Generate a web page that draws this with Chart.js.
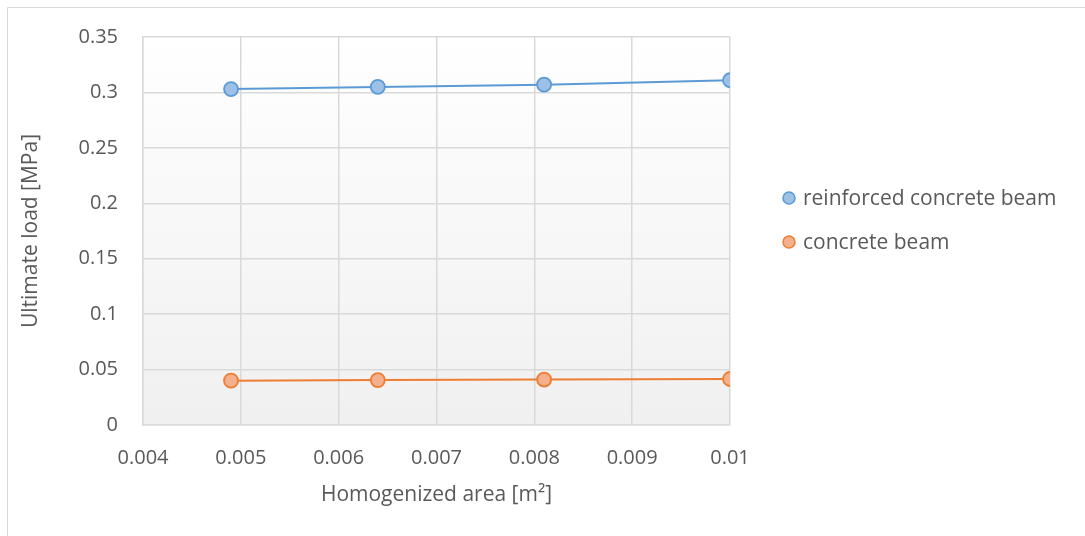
<!DOCTYPE html>
<html>
<head>
<meta charset="utf-8">
<script src="https://cdn.jsdelivr.net/npm/chart.js@4.4.1/dist/chart.umd.min.js"></script>
<style>
  html, body { margin: 0; padding: 0; background: #ffffff; }
  #wrap { width: 1085px; height: 536px; position: relative; }
  canvas { display: block; }
</style>
</head>
<body>
<div id="wrap"><canvas id="chart" width="1085" height="536"></canvas></div>
<script>
// Homogenized cross-section area [m²] of the tested beams
const areas = [0.0049, 0.0064, 0.0081, 0.01];
// Ultimate load [MPa] for each beam type
const reinforcedLoad = [0.303, 0.305, 0.307, 0.311];
const plainLoad = [0.040, 0.0405, 0.041, 0.0415];
const seriesNames = ['reinforced concrete beam', 'concrete beam'];

// Axis ticks
const xTickValues = [0.004, 0.005, 0.006, 0.007, 0.008, 0.009, 0.01];
const xTickLabels = ['0.004', '0.005', '0.006', '0.007', '0.008', '0.009', '0.01'];
const yTickValues = [0, 0.05, 0.1, 0.15, 0.2, 0.25, 0.3, 0.35];
const yTickLabels = ['0', '0.05', '0.1', '0.15', '0.2', '0.25', '0.3', '0.35'];

const xTitle = 'Homogenized area [m²]';
const yTitle = 'Ultimate load [MPa]';

const FONT = "'Open Sans', sans-serif";
const TEXT = '#595959';
const GRID = '#d9d9d9';
const TICK_SIZE = 20;
const LABEL_SIZE = 21;

Chart.defaults.font.family = FONT;
Chart.defaults.font.size = TICK_SIZE;
Chart.defaults.color = TEXT;

const toPoints = (xs, ys) => xs.map((x, i) => ({ x: x, y: ys[i] }));

const styles = [
  { line: '#5b9bd5', fill: '#9dc0e6' },
  { line: '#ed7d31', fill: '#f4b08c' }
];

// Light gradient behind the plot area plus the outer frame
const backdrop = {
  id: 'backdrop',
  beforeDraw(chart) {
    const { ctx, chartArea: a } = chart;
    ctx.save();
    ctx.fillStyle = '#ffffff';
    ctx.fillRect(0, 0, chart.width, chart.height);
    const g = ctx.createLinearGradient(0, a.top, 0, a.bottom);
    g.addColorStop(0, '#ffffff');
    g.addColorStop(1, '#f0f0f0');
    ctx.fillStyle = g;
    ctx.fillRect(a.left, a.top, a.right - a.left, a.bottom - a.top);
    ctx.strokeStyle = GRID;
    ctx.lineWidth = 1;
    ctx.beginPath();
    ctx.moveTo(7.5, chart.height);
    ctx.lineTo(7.5, 7.5);
    ctx.lineTo(chart.width, 7.5);
    ctx.stroke();
    ctx.restore();
  }
};

// Legend on the right side, built from the dataset labels and colours
const sideLegend = {
  id: 'sideLegend',
  afterDraw(chart) {
    const { ctx } = chart;
    const x0 = 789, tx = 803, y0 = 198, step = 44;
    ctx.save();
    chart.data.datasets.forEach((ds, i) => {
      const y = y0 + i * step;
      ctx.beginPath();
      ctx.arc(x0, y, 6, 0, Math.PI * 2);
      ctx.fillStyle = ds.pointBackgroundColor;
      ctx.fill();
      ctx.lineWidth = 1.5;
      ctx.strokeStyle = ds.pointBorderColor;
      ctx.stroke();
      ctx.fillStyle = TEXT;
      ctx.font = LABEL_SIZE + 'px ' + FONT;
      ctx.textBaseline = 'middle';
      ctx.textAlign = 'left';
      ctx.fillText(ds.label, tx, y + 1);
    });
    ctx.restore();
  }
};

const datasets = [reinforcedLoad, plainLoad].map((vals, i) => ({
  label: seriesNames[i],
  data: toPoints(areas, vals),
  showLine: true,
  borderColor: styles[i].line,
  borderWidth: 2,
  backgroundColor: styles[i].fill,
  pointBackgroundColor: styles[i].fill,
  pointBorderColor: styles[i].line,
  pointBorderWidth: 1.8,
  pointRadius: 7,
  pointHoverRadius: 7,
  tension: 0
}));

new Chart(document.getElementById('chart'), {
  type: 'scatter',
  data: { datasets: datasets },
  options: {
    responsive: false,
    animation: false,
    devicePixelRatio: 1,
    layout: { padding: { top: 36, right: 355, left: 0, bottom: 0 } },
    plugins: {
      legend: { display: false },
      tooltip: { enabled: false }
    },
    scales: {
      x: {
        type: 'linear',
        min: xTickValues[0],
        max: xTickValues[xTickValues.length - 1],
        afterBuildTicks: s => { s.ticks = xTickValues.map(v => ({ value: v })); },
        afterFit: s => { s.height = 111; },
        border: { color: GRID, width: 1.5 },
        grid: { color: GRID, lineWidth: 1.5, drawTicks: false },
        ticks: {
          padding: 21,
          maxRotation: 0,
          autoSkip: false,
          callback: (v, i) => xTickLabels[i]
        },
        title: {
          display: true,
          text: xTitle,
          color: TEXT,
          font: { size: LABEL_SIZE },
          padding: { top: 0, bottom: 28 }
        }
      },
      y: {
        type: 'linear',
        min: yTickValues[0],
        max: yTickValues[yTickValues.length - 1],
        afterBuildTicks: s => { s.ticks = yTickValues.map(v => ({ value: v })); },
        afterFit: s => { s.width = 143; },
        border: { color: GRID, width: 1.5 },
        grid: { color: GRID, lineWidth: 1.5, drawTicks: false },
        ticks: {
          padding: 25,
          autoSkip: false,
          callback: (v, i) => yTickLabels[i]
        },
        title: {
          display: true,
          text: yTitle,
          color: TEXT,
          font: { size: LABEL_SIZE },
          padding: { top: 18, bottom: 0 }
        }
      }
    }
  },
  plugins: [backdrop, sideLegend]
});
</script>
</body>
</html>
